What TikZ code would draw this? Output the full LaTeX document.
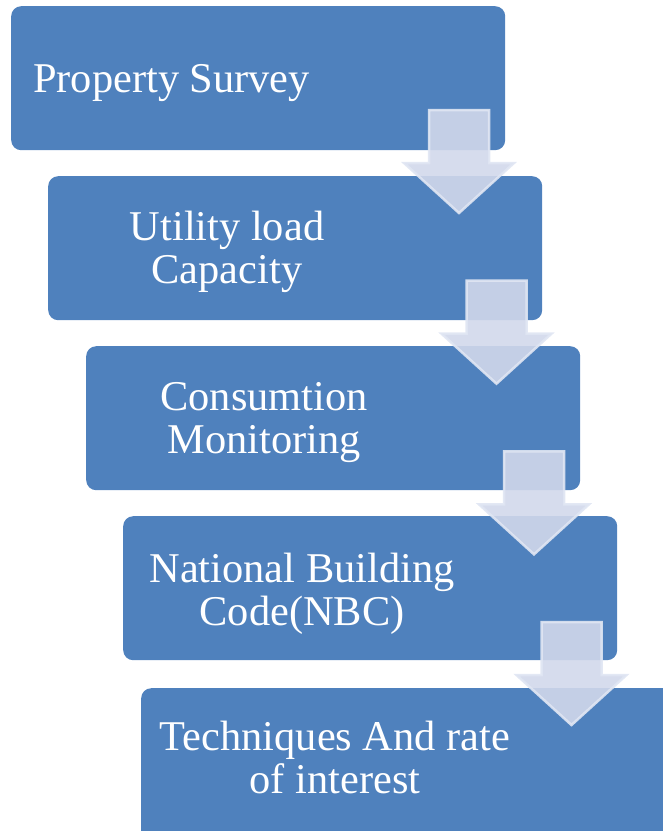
\documentclass[tikz,border=0pt]{standalone}
\usepackage{fontspec}
\setmainfont{Liberation Serif}
\definecolor{boxblue}{HTML}{4F81BD}
\definecolor{arrowfill}{RGB}{209,216,235}
\definecolor{arrowedge}{RGB}{224,230,243}
\begin{document}
\begin{tikzpicture}[x=1pt,y=-1pt,
  stepbox/.style={fill=boxblue, rounded corners=10pt, draw=none, inner sep=0pt, anchor=north west, minimum width=494pt, minimum height=144pt},
  steptext/.style={text=white, font=\fontsize{42.4}{43}\selectfont, align=center, inner sep=0pt},
  downarrow/.style={fill=arrowfill, fill opacity=0.9, draw=arrowedge, draw opacity=0.9, line width=2.5pt, line join=miter}]
\useasboundingbox (0,0) rectangle (663,831);
\clip (0,0) rectangle (663,831);
\node[stepbox] (b1) at (11,6) {};
\node[stepbox] (b2) at (48,176) {};
\node[stepbox] (b3) at (86,346) {};
\node[stepbox] (b4) at (123,516) {};
\node[stepbox, minimum width=560pt, minimum height=180pt] (b5) at (141,688) {};
\node[steptext, anchor=base west] (t1) at (33,92) {Property Survey};
\node[steptext, anchor=base] (t2) at (227,283) {Utility load\\Capacity};
\node[steptext, anchor=base] (t3) at (264,453) {Consumtion\\Monitoring};
\node[steptext, anchor=base] (t4) at (302,625) {National Building\\Code(NBC)};
\node[steptext, anchor=base] (t5) at (335,793) {Techniques And rate\\of interest};
\foreach \k in {0,1,2,3} {
  \begin{scope}[shift={({37.5*\k},{170.67*\k})}]
    \draw[downarrow] (429,110) -- (489,110) -- (489,163) -- (514,163) -- (459,213) -- (404,163) -- (429,163) -- cycle;
  \end{scope}
}
\end{tikzpicture}
\end{document}
